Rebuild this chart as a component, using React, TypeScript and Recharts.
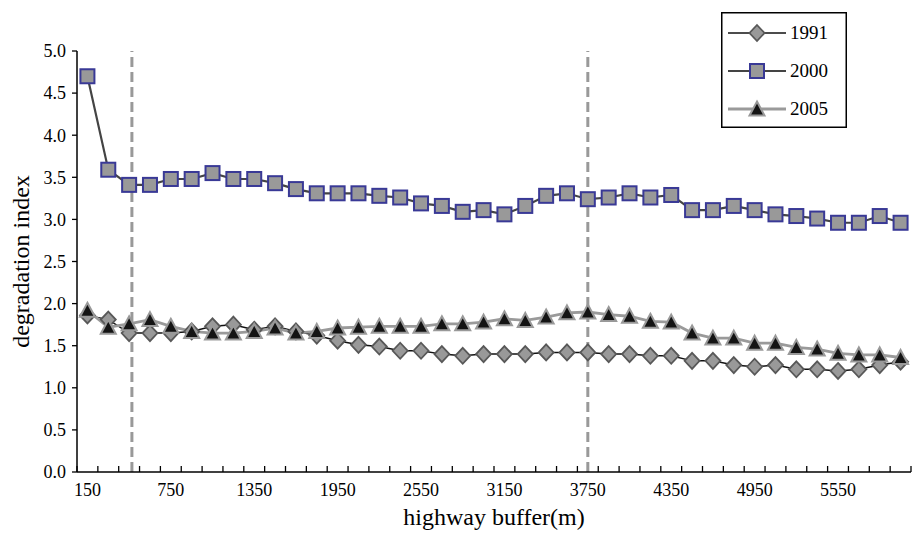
import { Legend, Line, LineChart, ReferenceLine, XAxis, YAxis } from "recharts";

const FONT = '"Liberation Serif", "Times New Roman", serif';

// distance from highway (m), one category every 150 m
const buffer = [
  150, 300, 450, 600, 750, 900, 1050, 1200, 1350, 1500,
  1650, 1800, 1950, 2100, 2250, 2400, 2550, 2700, 2850, 3000,
  3150, 3300, 3450, 3600, 3750, 3900, 4050, 4200, 4350, 4500,
  4650, 4800, 4950, 5100, 5250, 5400, 5550, 5700, 5850, 6000,
];

const idx1991 = [
  1.86, 1.81, 1.65, 1.65, 1.65, 1.67, 1.73, 1.75, 1.69, 1.73,
  1.67, 1.62, 1.56, 1.51, 1.49, 1.44, 1.44, 1.4, 1.38, 1.4,
  1.4, 1.4, 1.42, 1.42, 1.42, 1.4, 1.4, 1.38, 1.38, 1.32,
  1.32, 1.27, 1.25, 1.27, 1.22, 1.22, 1.2, 1.22, 1.27, 1.31,
];

const idx2000 = [
  4.7, 3.59, 3.41, 3.41, 3.48, 3.48, 3.55, 3.48, 3.48, 3.43,
  3.36, 3.31, 3.31, 3.31, 3.28, 3.26, 3.19, 3.16, 3.09, 3.11,
  3.06, 3.16, 3.28, 3.31, 3.24, 3.26, 3.31, 3.26, 3.29, 3.11,
  3.11, 3.16, 3.11, 3.06, 3.04, 3.01, 2.96, 2.96, 3.04, 2.96,
];

const idx2005 = [
  1.92, 1.72, 1.76, 1.81, 1.73, 1.67, 1.65, 1.65, 1.67, 1.71,
  1.65, 1.67, 1.71, 1.72, 1.73, 1.73, 1.73, 1.76, 1.76, 1.78,
  1.82, 1.8, 1.84, 1.89, 1.9, 1.87, 1.85, 1.79, 1.78, 1.65,
  1.59, 1.59, 1.53, 1.53, 1.48, 1.46, 1.41, 1.39, 1.39, 1.36,
];

const xTickLabels = [150, 750, 1350, 1950, 2550, 3150, 3750, 4350, 4950, 5550];
const yTicks = [0, 0.5, 1, 1.5, 2, 2.5, 3, 3.5, 4, 4.5, 5];
const dashedAt = [470, 3750];

const data = buffer.map((b, i) => ({
  buffer: b,
  y1991: idx1991[i],
  y2000: idx2000[i],
  y2005: idx2005[i],
}));

const STEP = 150;
// minor ticks sit on the category boundaries, labels on the centres
const boundaries = [buffer[0] - STEP / 2, ...buffer.map((b) => b + STEP / 2)];
const xTicks = [...boundaries, ...xTickLabels].sort((a, b) => a - b);

type Kind = "diamond" | "square" | "triangle";

function Marker({ kind, cx, cy }: { kind: Kind; cx: number; cy: number }) {
  if (kind === "diamond") {
    return (
      <path
        d={`M${cx},${cy - 8}L${cx + 7.5},${cy}L${cx},${cy + 8}L${cx - 7.5},${cy}Z`}
        fill="#999999"
        stroke="#585858"
        strokeWidth={1.8}
      />
    );
  }
  if (kind === "square") {
    return (
      <rect
        x={cx - 7}
        y={cy - 7}
        width={14}
        height={14}
        fill="#999999"
        stroke="#393996"
        strokeWidth={2}
      />
    );
  }
  return (
    <path
      d={`M${cx},${cy - 7.5}L${cx + 7.5},${cy + 6.5}L${cx - 7.5},${cy + 6.5}Z`}
      fill="#141414"
      stroke="#999999"
      strokeWidth={2}
      strokeLinejoin="miter"
    />
  );
}

const series = [
  { key: "y1991", name: "1991", stroke: "#111111", width: 1.5, marker: "diamond" as Kind },
  { key: "y2000", name: "2000", stroke: "#444444", width: 2.2, marker: "square" as Kind },
  { key: "y2005", name: "2005", stroke: "#9a9a9a", width: 2.8, marker: "triangle" as Kind },
];

// draw order: 2000 first, triangles on top
const drawOrder = ["y2000", "y1991", "y2005"];

function XTick(props: any) {
  const { x, y, payload } = props;
  const v = payload.value;
  if (xTickLabels.includes(v)) {
    return (
      <text x={x} y={y + 11} dy="0.71em" textAnchor="middle" fontSize={18} fontFamily={FONT} fill="#000">
        {v}
      </text>
    );
  }
  return <line x1={x} x2={x} y1={y} y2={y - 6} stroke="#000" strokeWidth={1.3} />;
}

function LegendBox() {
  return (
    <svg width={126} height={116} style={{ display: "block" }}>
      <rect x={0.75} y={0.75} width={124.5} height={114.5} fill="#fff" stroke="#000" strokeWidth={1.5} />
      {series.map((s, i) => {
        const cy = 21 + i * 38;
        return (
          <g key={s.key}>
            <line x1={7} x2={65} y1={cy} y2={cy} stroke={s.stroke} strokeWidth={s.width} />
            <Marker kind={s.marker} cx={36} cy={cy} />
            <text x={69} y={cy + 6} fontSize={19} fontFamily={FONT} fill="#000">
              {s.name}
            </text>
          </g>
        );
      })}
    </svg>
  );
}

export default function App() {
  return (
    <div style={{ position: "absolute", left: 0, top: 0, background: "#fff" }}>
      <LineChart
        width={912}
        height={533}
        data={data}
        margin={{ top: 51, right: 1, bottom: 0, left: 0 }}
        style={{ fontFamily: FONT }}
      >
        <XAxis
          dataKey="buffer"
          type="number"
          domain={[75, 6075]}
          ticks={xTicks}
          interval={0}
          height={61}
          tickSize={0}
          tickMargin={0}
          tick={XTick}
          axisLine={{ stroke: "#000", strokeWidth: 1.5 }}
          label={{
            value: "highway buffer(m)",
            position: "insideBottom",
            offset: 8,
            style: { fontSize: 24, fill: "#000", fontFamily: FONT },
          }}
        />
        <YAxis
          domain={[0, 5]}
          ticks={yTicks}
          interval={0}
          width={77}
          tickSize={5}
          tickMargin={6}
          tickFormatter={(v: number) => v.toFixed(1)}
          tick={{ fill: "#000", fontSize: 18, fontFamily: FONT }}
          tickLine={{ stroke: "#000", strokeWidth: 1.3 }}
          axisLine={{ stroke: "#000", strokeWidth: 1.5 }}
          label={{
            value: "degradation index",
            angle: -90,
            position: "insideLeft",
            offset: 20,
            style: { textAnchor: "middle", fontSize: 24, fill: "#000", fontFamily: FONT },
          }}
        />
        {drawOrder.map((k) => {
          const s = series.find((e) => e.key === k)!;
          return (
            <Line
              key={s.key}
              dataKey={s.key}
              name={s.name}
              type="linear"
              stroke={s.stroke}
              strokeWidth={s.width}
              isAnimationActive={false}
              dot={(p: any) => <Marker key={`${s.key}-${p.index}`} kind={s.marker} cx={p.cx} cy={p.cy} />}
              activeDot={false}
            />
          );
        })}
        {dashedAt.map((x) => (
          <ReferenceLine key={x} x={x} stroke="#999999" strokeWidth={3} strokeDasharray="10 5" />
        ))}
        <Legend
          layout="vertical"
          align="center"
          verticalAlign="middle"
          content={() => <LegendBox />}
          wrapperStyle={{ position: "absolute", left: 721, top: 12, width: 126, height: 116 }}
        />
      </LineChart>
    </div>
  );
}
